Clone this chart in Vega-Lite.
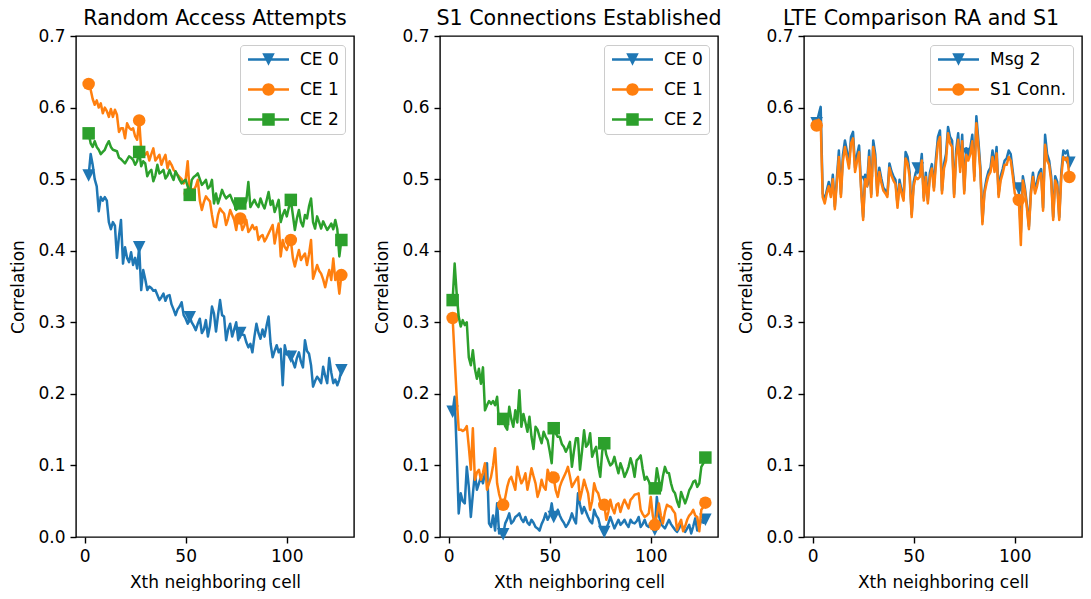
{
"$schema":"https://vega.github.io/schema/vega-lite/v6.json",
"background":"white",
"padding":{"left":9,"top":8,"right":0,"bottom":0},
"spacing":86,
"bounds":"flush",
"datasets":{
"ra":[
{"s":"CE 0","x":2,"y":0.505},{"s":"CE 0","x":3,"y":0.535},{"s":"CE 0","x":4,"y":0.52},{"s":"CE 0","x":5,"y":0.5},{"s":"CE 0","x":6,"y":0.49},{"s":"CE 0","x":7,"y":0.455},{"s":"CE 0","x":8,"y":0.475},{"s":"CE 0","x":9,"y":0.47},{"s":"CE 0","x":10,"y":0.475},{"s":"CE 0","x":11,"y":0.47},
{"s":"CE 0","x":12,"y":0.44},{"s":"CE 0","x":13,"y":0.43},{"s":"CE 0","x":14,"y":0.44},{"s":"CE 0","x":15,"y":0.435},{"s":"CE 0","x":16,"y":0.39},{"s":"CE 0","x":17,"y":0.42},{"s":"CE 0","x":18,"y":0.443},{"s":"CE 0","x":19,"y":0.382},{"s":"CE 0","x":20,"y":0.405},{"s":"CE 0","x":21,"y":0.39},
{"s":"CE 0","x":22,"y":0.384},{"s":"CE 0","x":23,"y":0.398},{"s":"CE 0","x":24,"y":0.38},{"s":"CE 0","x":25,"y":0.39},{"s":"CE 0","x":26,"y":0.375},{"s":"CE 0","x":27,"y":0.405},{"s":"CE 0","x":28,"y":0.345},{"s":"CE 0","x":29,"y":0.373},{"s":"CE 0","x":30,"y":0.36},{"s":"CE 0","x":31,"y":0.345},
{"s":"CE 0","x":32,"y":0.35},{"s":"CE 0","x":33,"y":0.348},{"s":"CE 0","x":34,"y":0.344},{"s":"CE 0","x":35,"y":0.345},{"s":"CE 0","x":36,"y":0.338},{"s":"CE 0","x":37,"y":0.331},{"s":"CE 0","x":38,"y":0.335},{"s":"CE 0","x":39,"y":0.34},{"s":"CE 0","x":40,"y":0.33},{"s":"CE 0","x":41,"y":0.337},
{"s":"CE 0","x":42,"y":0.338},{"s":"CE 0","x":43,"y":0.325},{"s":"CE 0","x":44,"y":0.318},{"s":"CE 0","x":45,"y":0.31},{"s":"CE 0","x":46,"y":0.318},{"s":"CE 0","x":47,"y":0.322},{"s":"CE 0","x":48,"y":0.328},{"s":"CE 0","x":49,"y":0.31},{"s":"CE 0","x":50,"y":0.305},{"s":"CE 0","x":51,"y":0.298},
{"s":"CE 0","x":52,"y":0.307},{"s":"CE 0","x":53,"y":0.3},{"s":"CE 0","x":54,"y":0.295},{"s":"CE 0","x":55,"y":0.289},{"s":"CE 0","x":56,"y":0.298},{"s":"CE 0","x":57,"y":0.305},{"s":"CE 0","x":58,"y":0.285},{"s":"CE 0","x":59,"y":0.29},{"s":"CE 0","x":60,"y":0.303},{"s":"CE 0","x":61,"y":0.28},
{"s":"CE 0","x":62,"y":0.295},{"s":"CE 0","x":63,"y":0.322},{"s":"CE 0","x":64,"y":0.312},{"s":"CE 0","x":65,"y":0.287},{"s":"CE 0","x":66,"y":0.31},{"s":"CE 0","x":67,"y":0.331},{"s":"CE 0","x":68,"y":0.31},{"s":"CE 0","x":69,"y":0.308},{"s":"CE 0","x":70,"y":0.275},{"s":"CE 0","x":71,"y":0.29},
{"s":"CE 0","x":72,"y":0.298},{"s":"CE 0","x":73,"y":0.28},{"s":"CE 0","x":74,"y":0.29},{"s":"CE 0","x":75,"y":0.3},{"s":"CE 0","x":76,"y":0.275},{"s":"CE 0","x":77,"y":0.285},{"s":"CE 0","x":78,"y":0.283},{"s":"CE 0","x":79,"y":0.282},{"s":"CE 0","x":80,"y":0.272},{"s":"CE 0","x":81,"y":0.265},
{"s":"CE 0","x":82,"y":0.27},{"s":"CE 0","x":83,"y":0.258},{"s":"CE 0","x":84,"y":0.28},{"s":"CE 0","x":85,"y":0.298},{"s":"CE 0","x":86,"y":0.285},{"s":"CE 0","x":87,"y":0.277},{"s":"CE 0","x":88,"y":0.29},{"s":"CE 0","x":89,"y":0.28},{"s":"CE 0","x":90,"y":0.295},{"s":"CE 0","x":91,"y":0.308},
{"s":"CE 0","x":92,"y":0.27},{"s":"CE 0","x":93,"y":0.251},{"s":"CE 0","x":94,"y":0.26},{"s":"CE 0","x":95,"y":0.268},{"s":"CE 0","x":96,"y":0.258},{"s":"CE 0","x":97,"y":0.263},{"s":"CE 0","x":98,"y":0.212},{"s":"CE 0","x":99,"y":0.268},{"s":"CE 0","x":100,"y":0.255},{"s":"CE 0","x":101,"y":0.259},
{"s":"CE 0","x":102,"y":0.252},{"s":"CE 0","x":103,"y":0.245},{"s":"CE 0","x":104,"y":0.237},{"s":"CE 0","x":105,"y":0.25},{"s":"CE 0","x":106,"y":0.258},{"s":"CE 0","x":107,"y":0.245},{"s":"CE 0","x":108,"y":0.237},{"s":"CE 0","x":109,"y":0.275},{"s":"CE 0","x":110,"y":0.26},{"s":"CE 0","x":111,"y":0.256},
{"s":"CE 0","x":112,"y":0.24},{"s":"CE 0","x":113,"y":0.21},{"s":"CE 0","x":114,"y":0.218},{"s":"CE 0","x":115,"y":0.224},{"s":"CE 0","x":116,"y":0.22},{"s":"CE 0","x":117,"y":0.215},{"s":"CE 0","x":118,"y":0.238},{"s":"CE 0","x":119,"y":0.225},{"s":"CE 0","x":120,"y":0.215},{"s":"CE 0","x":121,"y":0.25},
{"s":"CE 0","x":122,"y":0.23},{"s":"CE 0","x":123,"y":0.215},{"s":"CE 0","x":124,"y":0.22},{"s":"CE 0","x":125,"y":0.212},{"s":"CE 0","x":126,"y":0.22},{"s":"CE 0","x":127,"y":0.233},
{"s":"CE 1","x":2,"y":0.633},{"s":"CE 1","x":3,"y":0.625},{"s":"CE 1","x":4,"y":0.612},{"s":"CE 1","x":5,"y":0.604},{"s":"CE 1","x":6,"y":0.61},{"s":"CE 1","x":7,"y":0.6},{"s":"CE 1","x":8,"y":0.606},{"s":"CE 1","x":9,"y":0.592},{"s":"CE 1","x":10,"y":0.6},{"s":"CE 1","x":11,"y":0.595},
{"s":"CE 1","x":12,"y":0.587},{"s":"CE 1","x":13,"y":0.598},{"s":"CE 1","x":14,"y":0.587},{"s":"CE 1","x":15,"y":0.597},{"s":"CE 1","x":16,"y":0.59},{"s":"CE 1","x":17,"y":0.566},{"s":"CE 1","x":18,"y":0.571},{"s":"CE 1","x":19,"y":0.571},{"s":"CE 1","x":20,"y":0.557},{"s":"CE 1","x":21,"y":0.578},
{"s":"CE 1","x":22,"y":0.572},{"s":"CE 1","x":23,"y":0.569},{"s":"CE 1","x":24,"y":0.571},{"s":"CE 1","x":25,"y":0.56},{"s":"CE 1","x":26,"y":0.555},{"s":"CE 1","x":27,"y":0.582},{"s":"CE 1","x":28,"y":0.541},{"s":"CE 1","x":29,"y":0.538},{"s":"CE 1","x":30,"y":0.534},{"s":"CE 1","x":31,"y":0.538},
{"s":"CE 1","x":32,"y":0.526},{"s":"CE 1","x":33,"y":0.535},{"s":"CE 1","x":34,"y":0.543},{"s":"CE 1","x":35,"y":0.526},{"s":"CE 1","x":36,"y":0.53},{"s":"CE 1","x":37,"y":0.534},{"s":"CE 1","x":38,"y":0.52},{"s":"CE 1","x":39,"y":0.528},{"s":"CE 1","x":40,"y":0.534},{"s":"CE 1","x":41,"y":0.515},
{"s":"CE 1","x":42,"y":0.525},{"s":"CE 1","x":43,"y":0.52},{"s":"CE 1","x":44,"y":0.513},{"s":"CE 1","x":45,"y":0.51},{"s":"CE 1","x":46,"y":0.506},{"s":"CE 1","x":47,"y":0.503},{"s":"CE 1","x":48,"y":0.5},{"s":"CE 1","x":49,"y":0.494},{"s":"CE 1","x":50,"y":0.5},{"s":"CE 1","x":51,"y":0.525},
{"s":"CE 1","x":52,"y":0.48},{"s":"CE 1","x":53,"y":0.483},{"s":"CE 1","x":54,"y":0.485},{"s":"CE 1","x":55,"y":0.49},{"s":"CE 1","x":56,"y":0.499},{"s":"CE 1","x":57,"y":0.47},{"s":"CE 1","x":58,"y":0.457},{"s":"CE 1","x":59,"y":0.468},{"s":"CE 1","x":60,"y":0.476},{"s":"CE 1","x":61,"y":0.472},
{"s":"CE 1","x":62,"y":0.469},{"s":"CE 1","x":63,"y":0.45},{"s":"CE 1","x":64,"y":0.434},{"s":"CE 1","x":65,"y":0.433},{"s":"CE 1","x":66,"y":0.45},{"s":"CE 1","x":67,"y":0.459},{"s":"CE 1","x":68,"y":0.455},{"s":"CE 1","x":69,"y":0.452},{"s":"CE 1","x":70,"y":0.436},{"s":"CE 1","x":71,"y":0.445},
{"s":"CE 1","x":72,"y":0.457},{"s":"CE 1","x":73,"y":0.45},{"s":"CE 1","x":74,"y":0.443},{"s":"CE 1","x":75,"y":0.429},{"s":"CE 1","x":76,"y":0.448},{"s":"CE 1","x":77,"y":0.445},{"s":"CE 1","x":78,"y":0.429},{"s":"CE 1","x":79,"y":0.435},{"s":"CE 1","x":80,"y":0.443},{"s":"CE 1","x":81,"y":0.426},
{"s":"CE 1","x":82,"y":0.43},{"s":"CE 1","x":83,"y":0.436},{"s":"CE 1","x":84,"y":0.43},{"s":"CE 1","x":85,"y":0.433},{"s":"CE 1","x":86,"y":0.415},{"s":"CE 1","x":87,"y":0.42},{"s":"CE 1","x":88,"y":0.422},{"s":"CE 1","x":89,"y":0.413},{"s":"CE 1","x":90,"y":0.418},{"s":"CE 1","x":91,"y":0.424},
{"s":"CE 1","x":92,"y":0.43},{"s":"CE 1","x":93,"y":0.436},{"s":"CE 1","x":94,"y":0.41},{"s":"CE 1","x":95,"y":0.425},{"s":"CE 1","x":96,"y":0.438},{"s":"CE 1","x":97,"y":0.392},{"s":"CE 1","x":98,"y":0.415},{"s":"CE 1","x":99,"y":0.405},{"s":"CE 1","x":100,"y":0.401},{"s":"CE 1","x":101,"y":0.41},
{"s":"CE 1","x":102,"y":0.415},{"s":"CE 1","x":103,"y":0.39},{"s":"CE 1","x":104,"y":0.378},{"s":"CE 1","x":105,"y":0.39},{"s":"CE 1","x":106,"y":0.401},{"s":"CE 1","x":107,"y":0.387},{"s":"CE 1","x":108,"y":0.392},{"s":"CE 1","x":109,"y":0.396},{"s":"CE 1","x":110,"y":0.38},{"s":"CE 1","x":111,"y":0.395},
{"s":"CE 1","x":112,"y":0.415},{"s":"CE 1","x":113,"y":0.361},{"s":"CE 1","x":114,"y":0.37},{"s":"CE 1","x":115,"y":0.38},{"s":"CE 1","x":116,"y":0.372},{"s":"CE 1","x":117,"y":0.368},{"s":"CE 1","x":118,"y":0.36},{"s":"CE 1","x":119,"y":0.349},{"s":"CE 1","x":120,"y":0.362},{"s":"CE 1","x":121,"y":0.373},
{"s":"CE 1","x":122,"y":0.359},{"s":"CE 1","x":123,"y":0.389},{"s":"CE 1","x":124,"y":0.359},{"s":"CE 1","x":125,"y":0.365},{"s":"CE 1","x":126,"y":0.34},{"s":"CE 1","x":127,"y":0.366},
{"s":"CE 2","x":2,"y":0.564},{"s":"CE 2","x":3,"y":0.55},{"s":"CE 2","x":4,"y":0.545},{"s":"CE 2","x":5,"y":0.553},{"s":"CE 2","x":6,"y":0.545},{"s":"CE 2","x":7,"y":0.541},{"s":"CE 2","x":8,"y":0.535},{"s":"CE 2","x":9,"y":0.538},{"s":"CE 2","x":10,"y":0.541},{"s":"CE 2","x":11,"y":0.548},
{"s":"CE 2","x":12,"y":0.553},{"s":"CE 2","x":13,"y":0.545},{"s":"CE 2","x":14,"y":0.541},{"s":"CE 2","x":15,"y":0.54},{"s":"CE 2","x":16,"y":0.539},{"s":"CE 2","x":17,"y":0.53},{"s":"CE 2","x":18,"y":0.528},{"s":"CE 2","x":19,"y":0.525},{"s":"CE 2","x":20,"y":0.522},{"s":"CE 2","x":21,"y":0.527},
{"s":"CE 2","x":22,"y":0.532},{"s":"CE 2","x":23,"y":0.53},{"s":"CE 2","x":24,"y":0.527},{"s":"CE 2","x":25,"y":0.52},{"s":"CE 2","x":26,"y":0.525},{"s":"CE 2","x":27,"y":0.538},{"s":"CE 2","x":28,"y":0.518},{"s":"CE 2","x":29,"y":0.525},{"s":"CE 2","x":30,"y":0.522},{"s":"CE 2","x":31,"y":0.504},
{"s":"CE 2","x":32,"y":0.51},{"s":"CE 2","x":33,"y":0.513},{"s":"CE 2","x":34,"y":0.497},{"s":"CE 2","x":35,"y":0.505},{"s":"CE 2","x":36,"y":0.52},{"s":"CE 2","x":37,"y":0.508},{"s":"CE 2","x":38,"y":0.51},{"s":"CE 2","x":39,"y":0.513},{"s":"CE 2","x":40,"y":0.501},{"s":"CE 2","x":41,"y":0.505},
{"s":"CE 2","x":42,"y":0.513},{"s":"CE 2","x":43,"y":0.505},{"s":"CE 2","x":44,"y":0.499},{"s":"CE 2","x":45,"y":0.511},{"s":"CE 2","x":46,"y":0.505},{"s":"CE 2","x":47,"y":0.499},{"s":"CE 2","x":48,"y":0.494},{"s":"CE 2","x":49,"y":0.497},{"s":"CE 2","x":50,"y":0.499},{"s":"CE 2","x":51,"y":0.49},
{"s":"CE 2","x":52,"y":0.478},{"s":"CE 2","x":53,"y":0.499},{"s":"CE 2","x":54,"y":0.503},{"s":"CE 2","x":55,"y":0.505},{"s":"CE 2","x":56,"y":0.508},{"s":"CE 2","x":57,"y":0.5},{"s":"CE 2","x":58,"y":0.492},{"s":"CE 2","x":59,"y":0.495},{"s":"CE 2","x":60,"y":0.499},{"s":"CE 2","x":61,"y":0.487},
{"s":"CE 2","x":62,"y":0.49},{"s":"CE 2","x":63,"y":0.499},{"s":"CE 2","x":64,"y":0.466},{"s":"CE 2","x":65,"y":0.48},{"s":"CE 2","x":66,"y":0.466},{"s":"CE 2","x":67,"y":0.475},{"s":"CE 2","x":68,"y":0.485},{"s":"CE 2","x":69,"y":0.478},{"s":"CE 2","x":70,"y":0.473},{"s":"CE 2","x":71,"y":0.476},
{"s":"CE 2","x":72,"y":0.478},{"s":"CE 2","x":73,"y":0.471},{"s":"CE 2","x":74,"y":0.465},{"s":"CE 2","x":75,"y":0.457},{"s":"CE 2","x":76,"y":0.462},{"s":"CE 2","x":77,"y":0.466},{"s":"CE 2","x":78,"y":0.47},{"s":"CE 2","x":79,"y":0.464},{"s":"CE 2","x":80,"y":0.47},{"s":"CE 2","x":81,"y":0.496},
{"s":"CE 2","x":82,"y":0.461},{"s":"CE 2","x":83,"y":0.466},{"s":"CE 2","x":84,"y":0.471},{"s":"CE 2","x":85,"y":0.465},{"s":"CE 2","x":86,"y":0.461},{"s":"CE 2","x":87,"y":0.473},{"s":"CE 2","x":88,"y":0.465},{"s":"CE 2","x":89,"y":0.459},{"s":"CE 2","x":90,"y":0.47},{"s":"CE 2","x":91,"y":0.482},
{"s":"CE 2","x":92,"y":0.464},{"s":"CE 2","x":93,"y":0.47},{"s":"CE 2","x":94,"y":0.454},{"s":"CE 2","x":95,"y":0.462},{"s":"CE 2","x":96,"y":0.471},{"s":"CE 2","x":97,"y":0.44},{"s":"CE 2","x":98,"y":0.45},{"s":"CE 2","x":99,"y":0.457},{"s":"CE 2","x":100,"y":0.448},{"s":"CE 2","x":101,"y":0.46},
{"s":"CE 2","x":102,"y":0.471},{"s":"CE 2","x":103,"y":0.45},{"s":"CE 2","x":104,"y":0.429},{"s":"CE 2","x":105,"y":0.445},{"s":"CE 2","x":106,"y":0.457},{"s":"CE 2","x":107,"y":0.44},{"s":"CE 2","x":108,"y":0.434},{"s":"CE 2","x":109,"y":0.45},{"s":"CE 2","x":110,"y":0.445},{"s":"CE 2","x":111,"y":0.462},
{"s":"CE 2","x":112,"y":0.473},{"s":"CE 2","x":113,"y":0.44},{"s":"CE 2","x":114,"y":0.431},{"s":"CE 2","x":115,"y":0.448},{"s":"CE 2","x":116,"y":0.44},{"s":"CE 2","x":117,"y":0.431},{"s":"CE 2","x":118,"y":0.441},{"s":"CE 2","x":119,"y":0.435},{"s":"CE 2","x":120,"y":0.429},{"s":"CE 2","x":121,"y":0.433},
{"s":"CE 2","x":122,"y":0.438},{"s":"CE 2","x":123,"y":0.43},{"s":"CE 2","x":124,"y":0.443},{"s":"CE 2","x":125,"y":0.43},{"s":"CE 2","x":126,"y":0.392},{"s":"CE 2","x":127,"y":0.415}
],
"s1":[
{"s":"CE 0","x":2,"y":0.175},{"s":"CE 0","x":3,"y":0.196},{"s":"CE 0","x":4,"y":0.12},{"s":"CE 0","x":5,"y":0.033},{"s":"CE 0","x":6,"y":0.061},{"s":"CE 0","x":7,"y":0.05},{"s":"CE 0","x":8,"y":0.047},{"s":"CE 0","x":9,"y":0.098},{"s":"CE 0","x":10,"y":0.07},{"s":"CE 0","x":11,"y":0.028},
{"s":"CE 0","x":12,"y":0.06},{"s":"CE 0","x":13,"y":0.089},{"s":"CE 0","x":14,"y":0.066},{"s":"CE 0","x":15,"y":0.075},{"s":"CE 0","x":16,"y":0.084},{"s":"CE 0","x":17,"y":0.075},{"s":"CE 0","x":18,"y":0.09},{"s":"CE 0","x":19,"y":0.103},{"s":"CE 0","x":20,"y":0.019},{"s":"CE 0","x":21,"y":0.014},
{"s":"CE 0","x":22,"y":0.03},{"s":"CE 0","x":23,"y":0.009},{"s":"CE 0","x":24,"y":0.047},{"s":"CE 0","x":25,"y":0.005},{"s":"CE 0","x":26,"y":0.01},{"s":"CE 0","x":27,"y":0.004},{"s":"CE 0","x":28,"y":0.019},{"s":"CE 0","x":29,"y":0.025},{"s":"CE 0","x":30,"y":0.033},{"s":"CE 0","x":31,"y":0.019},
{"s":"CE 0","x":32,"y":0.022},{"s":"CE 0","x":33,"y":0.028},{"s":"CE 0","x":34,"y":0.03},{"s":"CE 0","x":35,"y":0.033},{"s":"CE 0","x":36,"y":0.025},{"s":"CE 0","x":37,"y":0.021},{"s":"CE 0","x":38,"y":0.028},{"s":"CE 0","x":39,"y":0.02},{"s":"CE 0","x":40,"y":0.017},{"s":"CE 0","x":41,"y":0.024},
{"s":"CE 0","x":42,"y":0.02},{"s":"CE 0","x":43,"y":0.014},{"s":"CE 0","x":44,"y":0.012},{"s":"CE 0","x":45,"y":0.009},{"s":"CE 0","x":46,"y":0.018},{"s":"CE 0","x":47,"y":0.024},{"s":"CE 0","x":48,"y":0.033},{"s":"CE 0","x":49,"y":0.024},{"s":"CE 0","x":50,"y":0.03},{"s":"CE 0","x":51,"y":0.047},
{"s":"CE 0","x":52,"y":0.028},{"s":"CE 0","x":53,"y":0.03},{"s":"CE 0","x":54,"y":0.038},{"s":"CE 0","x":55,"y":0.03},{"s":"CE 0","x":56,"y":0.024},{"s":"CE 0","x":57,"y":0.02},{"s":"CE 0","x":58,"y":0.014},{"s":"CE 0","x":59,"y":0.018},{"s":"CE 0","x":60,"y":0.024},{"s":"CE 0","x":61,"y":0.033},
{"s":"CE 0","x":62,"y":0.025},{"s":"CE 0","x":63,"y":0.019},{"s":"CE 0","x":64,"y":0.061},{"s":"CE 0","x":65,"y":0.045},{"s":"CE 0","x":66,"y":0.033},{"s":"CE 0","x":67,"y":0.042},{"s":"CE 0","x":68,"y":0.035},{"s":"CE 0","x":69,"y":0.028},{"s":"CE 0","x":70,"y":0.022},{"s":"CE 0","x":71,"y":0.019},
{"s":"CE 0","x":72,"y":0.038},{"s":"CE 0","x":73,"y":0.03},{"s":"CE 0","x":74,"y":0.026},{"s":"CE 0","x":75,"y":0.015},{"s":"CE 0","x":76,"y":0.01},{"s":"CE 0","x":77,"y":0.007},{"s":"CE 0","x":78,"y":0.012},{"s":"CE 0","x":79,"y":0.019},{"s":"CE 0","x":80,"y":0.028},{"s":"CE 0","x":81,"y":0.02},
{"s":"CE 0","x":82,"y":0.012},{"s":"CE 0","x":83,"y":0.018},{"s":"CE 0","x":84,"y":0.024},{"s":"CE 0","x":85,"y":0.017},{"s":"CE 0","x":86,"y":0.02},{"s":"CE 0","x":87,"y":0.024},{"s":"CE 0","x":88,"y":0.018},{"s":"CE 0","x":89,"y":0.014},{"s":"CE 0","x":90,"y":0.024},{"s":"CE 0","x":91,"y":0.02},
{"s":"CE 0","x":92,"y":0.019},{"s":"CE 0","x":93,"y":0.022},{"s":"CE 0","x":94,"y":0.028},{"s":"CE 0","x":95,"y":0.014},{"s":"CE 0","x":96,"y":0.018},{"s":"CE 0","x":97,"y":0.024},{"s":"CE 0","x":98,"y":0.016},{"s":"CE 0","x":99,"y":0.014},{"s":"CE 0","x":100,"y":0.02},{"s":"CE 0","x":101,"y":0.012},
{"s":"CE 0","x":102,"y":0.01},{"s":"CE 0","x":103,"y":0.056},{"s":"CE 0","x":104,"y":0.03},{"s":"CE 0","x":105,"y":0.019},{"s":"CE 0","x":106,"y":0.015},{"s":"CE 0","x":107,"y":0.012},{"s":"CE 0","x":108,"y":0.018},{"s":"CE 0","x":109,"y":0.024},{"s":"CE 0","x":110,"y":0.018},{"s":"CE 0","x":111,"y":0.014},
{"s":"CE 0","x":112,"y":0.01},{"s":"CE 0","x":113,"y":0.007},{"s":"CE 0","x":114,"y":0.012},{"s":"CE 0","x":115,"y":0.019},{"s":"CE 0","x":116,"y":0.012},{"s":"CE 0","x":117,"y":0.007},{"s":"CE 0","x":118,"y":0.012},{"s":"CE 0","x":119,"y":0.017},{"s":"CE 0","x":120,"y":0.005},{"s":"CE 0","x":121,"y":0.015},
{"s":"CE 0","x":122,"y":0.026},{"s":"CE 0","x":123,"y":0.009},{"s":"CE 0","x":124,"y":0.015},{"s":"CE 0","x":125,"y":0.024},{"s":"CE 0","x":126,"y":0.02},{"s":"CE 0","x":127,"y":0.024},
{"s":"CE 1","x":2,"y":0.306},{"s":"CE 1","x":3,"y":0.25},{"s":"CE 1","x":4,"y":0.196},{"s":"CE 1","x":5,"y":0.15},{"s":"CE 1","x":6,"y":0.15},{"s":"CE 1","x":7,"y":0.148},{"s":"CE 1","x":8,"y":0.15},{"s":"CE 1","x":9,"y":0.155},{"s":"CE 1","x":10,"y":0.126},{"s":"CE 1","x":11,"y":0.094},
{"s":"CE 1","x":12,"y":0.152},{"s":"CE 1","x":13,"y":0.08},{"s":"CE 1","x":14,"y":0.09},{"s":"CE 1","x":15,"y":0.094},{"s":"CE 1","x":16,"y":0.08},{"s":"CE 1","x":17,"y":0.09},{"s":"CE 1","x":18,"y":0.103},{"s":"CE 1","x":19,"y":0.066},{"s":"CE 1","x":20,"y":0.075},{"s":"CE 1","x":21,"y":0.084},
{"s":"CE 1","x":22,"y":0.1},{"s":"CE 1","x":23,"y":0.124},{"s":"CE 1","x":24,"y":0.075},{"s":"CE 1","x":25,"y":0.06},{"s":"CE 1","x":26,"y":0.05},{"s":"CE 1","x":27,"y":0.045},{"s":"CE 1","x":28,"y":0.055},{"s":"CE 1","x":29,"y":0.07},{"s":"CE 1","x":30,"y":0.08},{"s":"CE 1","x":31,"y":0.084},
{"s":"CE 1","x":32,"y":0.075},{"s":"CE 1","x":33,"y":0.066},{"s":"CE 1","x":34,"y":0.098},{"s":"CE 1","x":35,"y":0.085},{"s":"CE 1","x":36,"y":0.075},{"s":"CE 1","x":37,"y":0.08},{"s":"CE 1","x":38,"y":0.089},{"s":"CE 1","x":39,"y":0.066},{"s":"CE 1","x":40,"y":0.08},{"s":"CE 1","x":41,"y":0.096},
{"s":"CE 1","x":42,"y":0.085},{"s":"CE 1","x":43,"y":0.075},{"s":"CE 1","x":44,"y":0.056},{"s":"CE 1","x":45,"y":0.065},{"s":"CE 1","x":46,"y":0.08},{"s":"CE 1","x":47,"y":0.07},{"s":"CE 1","x":48,"y":0.066},{"s":"CE 1","x":49,"y":0.094},{"s":"CE 1","x":50,"y":0.085},{"s":"CE 1","x":51,"y":0.09},
{"s":"CE 1","x":52,"y":0.083},{"s":"CE 1","x":53,"y":0.065},{"s":"CE 1","x":54,"y":0.056},{"s":"CE 1","x":55,"y":0.07},{"s":"CE 1","x":56,"y":0.078},{"s":"CE 1","x":57,"y":0.084},{"s":"CE 1","x":58,"y":0.09},{"s":"CE 1","x":59,"y":0.098},{"s":"CE 1","x":60,"y":0.085},{"s":"CE 1","x":61,"y":0.07},
{"s":"CE 1","x":62,"y":0.075},{"s":"CE 1","x":63,"y":0.08},{"s":"CE 1","x":64,"y":0.084},{"s":"CE 1","x":65,"y":0.052},{"s":"CE 1","x":66,"y":0.065},{"s":"CE 1","x":67,"y":0.08},{"s":"CE 1","x":68,"y":0.07},{"s":"CE 1","x":69,"y":0.061},{"s":"CE 1","x":70,"y":0.038},{"s":"CE 1","x":71,"y":0.05},
{"s":"CE 1","x":72,"y":0.075},{"s":"CE 1","x":73,"y":0.065},{"s":"CE 1","x":74,"y":0.061},{"s":"CE 1","x":75,"y":0.05},{"s":"CE 1","x":76,"y":0.042},{"s":"CE 1","x":77,"y":0.045},{"s":"CE 1","x":78,"y":0.024},{"s":"CE 1","x":79,"y":0.035},{"s":"CE 1","x":80,"y":0.052},{"s":"CE 1","x":81,"y":0.04},
{"s":"CE 1","x":82,"y":0.033},{"s":"CE 1","x":83,"y":0.045},{"s":"CE 1","x":84,"y":0.047},{"s":"CE 1","x":85,"y":0.035},{"s":"CE 1","x":86,"y":0.045},{"s":"CE 1","x":87,"y":0.052},{"s":"CE 1","x":88,"y":0.046},{"s":"CE 1","x":89,"y":0.04},{"s":"CE 1","x":90,"y":0.052},{"s":"CE 1","x":91,"y":0.055},
{"s":"CE 1","x":92,"y":0.059},{"s":"CE 1","x":93,"y":0.06},{"s":"CE 1","x":94,"y":0.061},{"s":"CE 1","x":95,"y":0.038},{"s":"CE 1","x":96,"y":0.032},{"s":"CE 1","x":97,"y":0.028},{"s":"CE 1","x":98,"y":0.03},{"s":"CE 1","x":99,"y":0.033},{"s":"CE 1","x":100,"y":0.056},{"s":"CE 1","x":101,"y":0.03},
{"s":"CE 1","x":102,"y":0.017},{"s":"CE 1","x":103,"y":0.03},{"s":"CE 1","x":104,"y":0.047},{"s":"CE 1","x":105,"y":0.03},{"s":"CE 1","x":106,"y":0.019},{"s":"CE 1","x":107,"y":0.035},{"s":"CE 1","x":108,"y":0.045},{"s":"CE 1","x":109,"y":0.043},{"s":"CE 1","x":110,"y":0.042},{"s":"CE 1","x":111,"y":0.037},
{"s":"CE 1","x":112,"y":0.033},{"s":"CE 1","x":113,"y":0.01},{"s":"CE 1","x":114,"y":0.018},{"s":"CE 1","x":115,"y":0.024},{"s":"CE 1","x":116,"y":0.008},{"s":"CE 1","x":117,"y":0.015},{"s":"CE 1","x":118,"y":0.024},{"s":"CE 1","x":119,"y":0.03},{"s":"CE 1","x":120,"y":0.033},{"s":"CE 1","x":121,"y":0.038},
{"s":"CE 1","x":122,"y":0.03},{"s":"CE 1","x":123,"y":0.028},{"s":"CE 1","x":124,"y":0.008},{"s":"CE 1","x":125,"y":0.038},{"s":"CE 1","x":126,"y":0.042},{"s":"CE 1","x":127,"y":0.048},
{"s":"CE 2","x":2,"y":0.331},{"s":"CE 2","x":3,"y":0.382},{"s":"CE 2","x":4,"y":0.34},{"s":"CE 2","x":5,"y":0.308},{"s":"CE 2","x":6,"y":0.294},{"s":"CE 2","x":7,"y":0.303},{"s":"CE 2","x":8,"y":0.296},{"s":"CE 2","x":9,"y":0.3},{"s":"CE 2","x":10,"y":0.251},{"s":"CE 2","x":11,"y":0.24},
{"s":"CE 2","x":12,"y":0.261},{"s":"CE 2","x":13,"y":0.235},{"s":"CE 2","x":14,"y":0.221},{"s":"CE 2","x":15,"y":0.235},{"s":"CE 2","x":16,"y":0.214},{"s":"CE 2","x":17,"y":0.237},{"s":"CE 2","x":18,"y":0.177},{"s":"CE 2","x":19,"y":0.184},{"s":"CE 2","x":20,"y":0.19},{"s":"CE 2","x":21,"y":0.186},
{"s":"CE 2","x":22,"y":0.19},{"s":"CE 2","x":23,"y":0.184},{"s":"CE 2","x":24,"y":0.196},{"s":"CE 2","x":25,"y":0.158},{"s":"CE 2","x":26,"y":0.17},{"s":"CE 2","x":27,"y":0.165},{"s":"CE 2","x":28,"y":0.155},{"s":"CE 2","x":29,"y":0.15},{"s":"CE 2","x":30,"y":0.182},{"s":"CE 2","x":31,"y":0.165},
{"s":"CE 2","x":32,"y":0.154},{"s":"CE 2","x":33,"y":0.177},{"s":"CE 2","x":34,"y":0.16},{"s":"CE 2","x":35,"y":0.205},{"s":"CE 2","x":36,"y":0.154},{"s":"CE 2","x":37,"y":0.172},{"s":"CE 2","x":38,"y":0.16},{"s":"CE 2","x":39,"y":0.147},{"s":"CE 2","x":40,"y":0.168},{"s":"CE 2","x":41,"y":0.14},
{"s":"CE 2","x":42,"y":0.123},{"s":"CE 2","x":43,"y":0.154},{"s":"CE 2","x":44,"y":0.15},{"s":"CE 2","x":45,"y":0.14},{"s":"CE 2","x":46,"y":0.131},{"s":"CE 2","x":47,"y":0.147},{"s":"CE 2","x":48,"y":0.14},{"s":"CE 2","x":49,"y":0.135},{"s":"CE 2","x":50,"y":0.12},{"s":"CE 2","x":51,"y":0.103},
{"s":"CE 2","x":52,"y":0.152},{"s":"CE 2","x":53,"y":0.145},{"s":"CE 2","x":54,"y":0.14},{"s":"CE 2","x":55,"y":0.14},{"s":"CE 2","x":56,"y":0.13},{"s":"CE 2","x":57,"y":0.126},{"s":"CE 2","x":58,"y":0.119},{"s":"CE 2","x":59,"y":0.125},{"s":"CE 2","x":60,"y":0.133},{"s":"CE 2","x":61,"y":0.098},
{"s":"CE 2","x":62,"y":0.12},{"s":"CE 2","x":63,"y":0.138},{"s":"CE 2","x":64,"y":0.138},{"s":"CE 2","x":65,"y":0.094},{"s":"CE 2","x":66,"y":0.12},{"s":"CE 2","x":67,"y":0.149},{"s":"CE 2","x":68,"y":0.126},{"s":"CE 2","x":69,"y":0.13},{"s":"CE 2","x":70,"y":0.145},{"s":"CE 2","x":71,"y":0.112},
{"s":"CE 2","x":72,"y":0.12},{"s":"CE 2","x":73,"y":0.126},{"s":"CE 2","x":74,"y":0.1},{"s":"CE 2","x":75,"y":0.084},{"s":"CE 2","x":76,"y":0.12},{"s":"CE 2","x":77,"y":0.131},{"s":"CE 2","x":78,"y":0.115},{"s":"CE 2","x":79,"y":0.107},{"s":"CE 2","x":80,"y":0.1},{"s":"CE 2","x":81,"y":0.103},
{"s":"CE 2","x":82,"y":0.112},{"s":"CE 2","x":83,"y":0.1},{"s":"CE 2","x":84,"y":0.089},{"s":"CE 2","x":85,"y":0.103},{"s":"CE 2","x":86,"y":0.095},{"s":"CE 2","x":87,"y":0.084},{"s":"CE 2","x":88,"y":0.09},{"s":"CE 2","x":89,"y":0.098},{"s":"CE 2","x":90,"y":0.11},{"s":"CE 2","x":91,"y":0.1},
{"s":"CE 2","x":92,"y":0.084},{"s":"CE 2","x":93,"y":0.107},{"s":"CE 2","x":94,"y":0.11},{"s":"CE 2","x":95,"y":0.114},{"s":"CE 2","x":96,"y":0.095},{"s":"CE 2","x":97,"y":0.08},{"s":"CE 2","x":98,"y":0.084},{"s":"CE 2","x":99,"y":0.078},{"s":"CE 2","x":100,"y":0.07},{"s":"CE 2","x":101,"y":0.065},
{"s":"CE 2","x":102,"y":0.068},{"s":"CE 2","x":103,"y":0.096},{"s":"CE 2","x":104,"y":0.08},{"s":"CE 2","x":105,"y":0.065},{"s":"CE 2","x":106,"y":0.085},{"s":"CE 2","x":107,"y":0.098},{"s":"CE 2","x":108,"y":0.09},{"s":"CE 2","x":109,"y":0.089},{"s":"CE 2","x":110,"y":0.075},{"s":"CE 2","x":111,"y":0.065},
{"s":"CE 2","x":112,"y":0.061},{"s":"CE 2","x":113,"y":0.05},{"s":"CE 2","x":114,"y":0.042},{"s":"CE 2","x":115,"y":0.063},{"s":"CE 2","x":116,"y":0.055},{"s":"CE 2","x":117,"y":0.047},{"s":"CE 2","x":118,"y":0.055},{"s":"CE 2","x":119,"y":0.065},{"s":"CE 2","x":120,"y":0.07},{"s":"CE 2","x":121,"y":0.077},
{"s":"CE 2","x":122,"y":0.079},{"s":"CE 2","x":123,"y":0.07},{"s":"CE 2","x":124,"y":0.075},{"s":"CE 2","x":125,"y":0.098},{"s":"CE 2","x":126,"y":0.103},{"s":"CE 2","x":127,"y":0.111}
],
"cmp":[
{"s":"Msg 2","x":2,"y":0.578},{"s":"Msg 2","x":3,"y":0.59},{"s":"Msg 2","x":4,"y":0.601},{"s":"Msg 2","x":5,"y":0.48},{"s":"Msg 2","x":6,"y":0.47},{"s":"Msg 2","x":7,"y":0.484},{"s":"Msg 2","x":8,"y":0.496},{"s":"Msg 2","x":9,"y":0.479},{"s":"Msg 2","x":10,"y":0.506},{"s":"Msg 2","x":11,"y":0.462},
{"s":"Msg 2","x":12,"y":0.501},{"s":"Msg 2","x":13,"y":0.54},{"s":"Msg 2","x":14,"y":0.479},{"s":"Msg 2","x":15,"y":0.534},{"s":"Msg 2","x":16,"y":0.554},{"s":"Msg 2","x":17,"y":0.539},{"s":"Msg 2","x":18,"y":0.521},{"s":"Msg 2","x":19,"y":0.559},{"s":"Msg 2","x":20,"y":0.566},{"s":"Msg 2","x":21,"y":0.516},
{"s":"Msg 2","x":22,"y":0.534},{"s":"Msg 2","x":23,"y":0.547},{"s":"Msg 2","x":24,"y":0.489},{"s":"Msg 2","x":25,"y":0.447},{"s":"Msg 2","x":26,"y":0.506},{"s":"Msg 2","x":27,"y":0.496},{"s":"Msg 2","x":28,"y":0.54},{"s":"Msg 2","x":29,"y":0.479},{"s":"Msg 2","x":30,"y":0.554},{"s":"Msg 2","x":31,"y":0.535},
{"s":"Msg 2","x":32,"y":0.481},{"s":"Msg 2","x":33,"y":0.516},{"s":"Msg 2","x":34,"y":0.501},{"s":"Msg 2","x":35,"y":0.488},{"s":"Msg 2","x":36,"y":0.484},{"s":"Msg 2","x":37,"y":0.479},{"s":"Msg 2","x":38,"y":0.522},{"s":"Msg 2","x":39,"y":0.511},{"s":"Msg 2","x":40,"y":0.504},{"s":"Msg 2","x":41,"y":0.499},
{"s":"Msg 2","x":42,"y":0.464},{"s":"Msg 2","x":43,"y":0.499},{"s":"Msg 2","x":44,"y":0.484},{"s":"Msg 2","x":45,"y":0.474},{"s":"Msg 2","x":46,"y":0.538},{"s":"Msg 2","x":47,"y":0.531},{"s":"Msg 2","x":48,"y":0.509},{"s":"Msg 2","x":49,"y":0.451},{"s":"Msg 2","x":50,"y":0.496},{"s":"Msg 2","x":51,"y":0.509},
{"s":"Msg 2","x":52,"y":0.515},{"s":"Msg 2","x":53,"y":0.509},{"s":"Msg 2","x":54,"y":0.535},{"s":"Msg 2","x":55,"y":0.474},{"s":"Msg 2","x":56,"y":0.509},{"s":"Msg 2","x":57,"y":0.47},{"s":"Msg 2","x":58,"y":0.509},{"s":"Msg 2","x":59,"y":0.521},{"s":"Msg 2","x":60,"y":0.488},{"s":"Msg 2","x":61,"y":0.529},
{"s":"Msg 2","x":62,"y":0.559},{"s":"Msg 2","x":63,"y":0.568},{"s":"Msg 2","x":64,"y":0.484},{"s":"Msg 2","x":65,"y":0.521},{"s":"Msg 2","x":66,"y":0.535},{"s":"Msg 2","x":67,"y":0.573},{"s":"Msg 2","x":68,"y":0.559},{"s":"Msg 2","x":69,"y":0.554},{"s":"Msg 2","x":70,"y":0.479},{"s":"Msg 2","x":71,"y":0.54},
{"s":"Msg 2","x":72,"y":0.564},{"s":"Msg 2","x":73,"y":0.516},{"s":"Msg 2","x":74,"y":0.562},{"s":"Msg 2","x":75,"y":0.484},{"s":"Msg 2","x":76,"y":0.543},{"s":"Msg 2","x":77,"y":0.535},{"s":"Msg 2","x":78,"y":0.544},{"s":"Msg 2","x":79,"y":0.562},{"s":"Msg 2","x":80,"y":0.504},{"s":"Msg 2","x":81,"y":0.588},
{"s":"Msg 2","x":82,"y":0.554},{"s":"Msg 2","x":83,"y":0.516},{"s":"Msg 2","x":84,"y":0.441},{"s":"Msg 2","x":85,"y":0.484},{"s":"Msg 2","x":86,"y":0.5},{"s":"Msg 2","x":87,"y":0.511},{"s":"Msg 2","x":88,"y":0.516},{"s":"Msg 2","x":89,"y":0.54},{"s":"Msg 2","x":90,"y":0.516},{"s":"Msg 2","x":91,"y":0.545},
{"s":"Msg 2","x":92,"y":0.479},{"s":"Msg 2","x":93,"y":0.504},{"s":"Msg 2","x":94,"y":0.514},{"s":"Msg 2","x":95,"y":0.526},{"s":"Msg 2","x":96,"y":0.529},{"s":"Msg 2","x":97,"y":0.54},{"s":"Msg 2","x":98,"y":0.535},{"s":"Msg 2","x":99,"y":0.511},{"s":"Msg 2","x":100,"y":0.488},{"s":"Msg 2","x":101,"y":0.492},
{"s":"Msg 2","x":102,"y":0.487},{"s":"Msg 2","x":103,"y":0.425},{"s":"Msg 2","x":104,"y":0.504},{"s":"Msg 2","x":105,"y":0.488},{"s":"Msg 2","x":106,"y":0.464},{"s":"Msg 2","x":107,"y":0.434},{"s":"Msg 2","x":108,"y":0.484},{"s":"Msg 2","x":109,"y":0.509},{"s":"Msg 2","x":110,"y":0.484},{"s":"Msg 2","x":111,"y":0.496},
{"s":"Msg 2","x":112,"y":0.509},{"s":"Msg 2","x":113,"y":0.514},{"s":"Msg 2","x":114,"y":0.46},{"s":"Msg 2","x":115,"y":0.562},{"s":"Msg 2","x":116,"y":0.535},{"s":"Msg 2","x":117,"y":0.526},{"s":"Msg 2","x":118,"y":0.504},{"s":"Msg 2","x":119,"y":0.447},{"s":"Msg 2","x":120,"y":0.504},{"s":"Msg 2","x":121,"y":0.496},
{"s":"Msg 2","x":122,"y":0.447},{"s":"Msg 2","x":123,"y":0.509},{"s":"Msg 2","x":124,"y":0.54},{"s":"Msg 2","x":125,"y":0.536},{"s":"Msg 2","x":126,"y":0.54},{"s":"Msg 2","x":127,"y":0.523},
{"s":"S1 Conn.","x":2,"y":0.575},{"s":"S1 Conn.","x":3,"y":0.583},{"s":"S1 Conn.","x":4,"y":0.58},{"s":"S1 Conn.","x":5,"y":0.475},{"s":"S1 Conn.","x":6,"y":0.466},{"s":"S1 Conn.","x":7,"y":0.48},{"s":"S1 Conn.","x":8,"y":0.49},{"s":"S1 Conn.","x":9,"y":0.475},{"s":"S1 Conn.","x":10,"y":0.5},{"s":"S1 Conn.","x":11,"y":0.458},
{"s":"S1 Conn.","x":12,"y":0.495},{"s":"S1 Conn.","x":13,"y":0.531},{"s":"S1 Conn.","x":14,"y":0.475},{"s":"S1 Conn.","x":15,"y":0.525},{"s":"S1 Conn.","x":16,"y":0.545},{"s":"S1 Conn.","x":17,"y":0.53},{"s":"S1 Conn.","x":18,"y":0.515},{"s":"S1 Conn.","x":19,"y":0.55},{"s":"S1 Conn.","x":20,"y":0.557},{"s":"S1 Conn.","x":21,"y":0.51},
{"s":"S1 Conn.","x":22,"y":0.525},{"s":"S1 Conn.","x":23,"y":0.538},{"s":"S1 Conn.","x":24,"y":0.485},{"s":"S1 Conn.","x":25,"y":0.443},{"s":"S1 Conn.","x":26,"y":0.5},{"s":"S1 Conn.","x":27,"y":0.49},{"s":"S1 Conn.","x":28,"y":0.531},{"s":"S1 Conn.","x":29,"y":0.475},{"s":"S1 Conn.","x":30,"y":0.545},{"s":"S1 Conn.","x":31,"y":0.526},
{"s":"S1 Conn.","x":32,"y":0.477},{"s":"S1 Conn.","x":33,"y":0.51},{"s":"S1 Conn.","x":34,"y":0.495},{"s":"S1 Conn.","x":35,"y":0.484},{"s":"S1 Conn.","x":36,"y":0.48},{"s":"S1 Conn.","x":37,"y":0.475},{"s":"S1 Conn.","x":38,"y":0.516},{"s":"S1 Conn.","x":39,"y":0.505},{"s":"S1 Conn.","x":40,"y":0.498},{"s":"S1 Conn.","x":41,"y":0.493},
{"s":"S1 Conn.","x":42,"y":0.46},{"s":"S1 Conn.","x":43,"y":0.493},{"s":"S1 Conn.","x":44,"y":0.48},{"s":"S1 Conn.","x":45,"y":0.47},{"s":"S1 Conn.","x":46,"y":0.529},{"s":"S1 Conn.","x":47,"y":0.522},{"s":"S1 Conn.","x":48,"y":0.503},{"s":"S1 Conn.","x":49,"y":0.447},{"s":"S1 Conn.","x":50,"y":0.49},{"s":"S1 Conn.","x":51,"y":0.503},
{"s":"S1 Conn.","x":52,"y":0.5},{"s":"S1 Conn.","x":53,"y":0.503},{"s":"S1 Conn.","x":54,"y":0.526},{"s":"S1 Conn.","x":55,"y":0.47},{"s":"S1 Conn.","x":56,"y":0.503},{"s":"S1 Conn.","x":57,"y":0.466},{"s":"S1 Conn.","x":58,"y":0.503},{"s":"S1 Conn.","x":59,"y":0.515},{"s":"S1 Conn.","x":60,"y":0.484},{"s":"S1 Conn.","x":61,"y":0.52},
{"s":"S1 Conn.","x":62,"y":0.55},{"s":"S1 Conn.","x":63,"y":0.559},{"s":"S1 Conn.","x":64,"y":0.48},{"s":"S1 Conn.","x":65,"y":0.515},{"s":"S1 Conn.","x":66,"y":0.526},{"s":"S1 Conn.","x":67,"y":0.564},{"s":"S1 Conn.","x":68,"y":0.55},{"s":"S1 Conn.","x":69,"y":0.545},{"s":"S1 Conn.","x":70,"y":0.475},{"s":"S1 Conn.","x":71,"y":0.531},
{"s":"S1 Conn.","x":72,"y":0.555},{"s":"S1 Conn.","x":73,"y":0.51},{"s":"S1 Conn.","x":74,"y":0.553},{"s":"S1 Conn.","x":75,"y":0.48},{"s":"S1 Conn.","x":76,"y":0.534},{"s":"S1 Conn.","x":77,"y":0.526},{"s":"S1 Conn.","x":78,"y":0.535},{"s":"S1 Conn.","x":79,"y":0.553},{"s":"S1 Conn.","x":80,"y":0.498},{"s":"S1 Conn.","x":81,"y":0.578},
{"s":"S1 Conn.","x":82,"y":0.545},{"s":"S1 Conn.","x":83,"y":0.51},{"s":"S1 Conn.","x":84,"y":0.437},{"s":"S1 Conn.","x":85,"y":0.48},{"s":"S1 Conn.","x":86,"y":0.494},{"s":"S1 Conn.","x":87,"y":0.505},{"s":"S1 Conn.","x":88,"y":0.51},{"s":"S1 Conn.","x":89,"y":0.531},{"s":"S1 Conn.","x":90,"y":0.51},{"s":"S1 Conn.","x":91,"y":0.536},
{"s":"S1 Conn.","x":92,"y":0.475},{"s":"S1 Conn.","x":93,"y":0.498},{"s":"S1 Conn.","x":94,"y":0.508},{"s":"S1 Conn.","x":95,"y":0.52},{"s":"S1 Conn.","x":96,"y":0.52},{"s":"S1 Conn.","x":97,"y":0.531},{"s":"S1 Conn.","x":98,"y":0.526},{"s":"S1 Conn.","x":99,"y":0.505},{"s":"S1 Conn.","x":100,"y":0.48},{"s":"S1 Conn.","x":101,"y":0.475},
{"s":"S1 Conn.","x":102,"y":0.471},{"s":"S1 Conn.","x":103,"y":0.408},{"s":"S1 Conn.","x":104,"y":0.498},{"s":"S1 Conn.","x":105,"y":0.484},{"s":"S1 Conn.","x":106,"y":0.46},{"s":"S1 Conn.","x":107,"y":0.43},{"s":"S1 Conn.","x":108,"y":0.48},{"s":"S1 Conn.","x":109,"y":0.503},{"s":"S1 Conn.","x":110,"y":0.48},{"s":"S1 Conn.","x":111,"y":0.49},
{"s":"S1 Conn.","x":112,"y":0.503},{"s":"S1 Conn.","x":113,"y":0.508},{"s":"S1 Conn.","x":114,"y":0.456},{"s":"S1 Conn.","x":115,"y":0.548},{"s":"S1 Conn.","x":116,"y":0.526},{"s":"S1 Conn.","x":117,"y":0.52},{"s":"S1 Conn.","x":118,"y":0.498},{"s":"S1 Conn.","x":119,"y":0.443},{"s":"S1 Conn.","x":120,"y":0.498},{"s":"S1 Conn.","x":121,"y":0.49},
{"s":"S1 Conn.","x":122,"y":0.443},{"s":"S1 Conn.","x":123,"y":0.503},{"s":"S1 Conn.","x":124,"y":0.531},{"s":"S1 Conn.","x":125,"y":0.527},{"s":"S1 Conn.","x":126,"y":0.53},{"s":"S1 Conn.","x":127,"y":0.503}
]
},
"hconcat":[
{
"title":"Random Access Attempts",
"width":278,"height":501,
"data":{"name":"ra"},
"encoding":{
"x":{"field":"x","type":"quantitative","scale":{"domain":[-4.25,133.25],"nice":false,"zero":false},"axis":{"values":[0,50,100],"title":"Xth neighboring cell"}},
"y":{"field":"y","type":"quantitative","scale":{"domain":[0,0.7],"nice":false},"axis":{"values":[0,0.1,0.2,0.3,0.4,0.5,0.6,0.7],"format":".1f","title":"Correlation"}},
"color":{"field":"s","type":"nominal","scale":{"domain":["CE 0","CE 1","CE 2"],"range":["#1f77b4","#ff7f0e","#2ca02c"]},
 "legend":{"encode":{"symbols":{"update":{
  "shape":{"signal":"datum.value === 'CE 0' ? 'M-2.41,-0.147H2.41V0.147H-2.41ZM-0.735,-0.735L0.735,-0.735L0,0.735Z' : datum.value === 'CE 1' ? 'M-2.41,-0.147H2.41V0.147H-2.41ZM0.735,0A0.735,0.735,0,1,1,-0.735,0A0.735,0.735,0,1,1,0.735,0Z' : 'M-2.41,-0.147H2.41V0.147H-2.41ZM-0.735,-0.735H0.735V0.735H-0.735Z'"},
  "fill":{"signal":"datum.value === 'CE 0' ? '#1f77b4' : datum.value === 'CE 1' ? '#ff7f0e' : '#2ca02c'"},
  "stroke":{"value":"transparent"},"strokeWidth":{"value":0},"opacity":{"value":1}}}}}}
},
"layer":[
{"transform":[{"filter":"datum.s === 'CE 0'"}],"mark":{"type":"line","strokeWidth":2.5,"strokeJoin":"round","strokeCap":"square"}},
{"transform":[{"filter":"datum.s === 'CE 0' && (datum.x - 2) % 25 === 0"}],"mark":{"type":"point","filled":true,"opacity":1,"size":156,"shape":"M-1,-1L1,-1L0,1Z"}},
{"transform":[{"filter":"datum.s === 'CE 1'"}],"mark":{"type":"line","strokeWidth":2.5,"strokeJoin":"round","strokeCap":"square"}},
{"transform":[{"filter":"datum.s === 'CE 1' && (datum.x - 2) % 25 === 0"}],"mark":{"type":"point","filled":true,"opacity":1,"size":156,"shape":"circle"}},
{"transform":[{"filter":"datum.s === 'CE 2'"}],"mark":{"type":"line","strokeWidth":2.5,"strokeJoin":"round","strokeCap":"square"}},
{"transform":[{"filter":"datum.s === 'CE 2' && (datum.x - 2) % 25 === 0"}],"mark":{"type":"point","filled":true,"opacity":1,"size":156,"shape":"square"}}
]
},
{
"title":"S1 Connections Established",
"width":278,"height":501,
"data":{"name":"s1"},
"encoding":{
"x":{"field":"x","type":"quantitative","scale":{"domain":[-4.25,133.25],"nice":false,"zero":false},"axis":{"values":[0,50,100],"title":"Xth neighboring cell"}},
"y":{"field":"y","type":"quantitative","scale":{"domain":[0,0.7],"nice":false},"axis":{"values":[0,0.1,0.2,0.3,0.4,0.5,0.6,0.7],"format":".1f","title":"Correlation"}},
"color":{"field":"s","type":"nominal","scale":{"domain":["CE 0","CE 1","CE 2"],"range":["#1f77b4","#ff7f0e","#2ca02c"]},
 "legend":{"encode":{"symbols":{"update":{
  "shape":{"signal":"datum.value === 'CE 0' ? 'M-2.41,-0.147H2.41V0.147H-2.41ZM-0.735,-0.735L0.735,-0.735L0,0.735Z' : datum.value === 'CE 1' ? 'M-2.41,-0.147H2.41V0.147H-2.41ZM0.735,0A0.735,0.735,0,1,1,-0.735,0A0.735,0.735,0,1,1,0.735,0Z' : 'M-2.41,-0.147H2.41V0.147H-2.41ZM-0.735,-0.735H0.735V0.735H-0.735Z'"},
  "fill":{"signal":"datum.value === 'CE 0' ? '#1f77b4' : datum.value === 'CE 1' ? '#ff7f0e' : '#2ca02c'"},
  "stroke":{"value":"transparent"},"strokeWidth":{"value":0},"opacity":{"value":1}}}}}}
},
"layer":[
{"transform":[{"filter":"datum.s === 'CE 0'"}],"mark":{"type":"line","strokeWidth":2.5,"strokeJoin":"round","strokeCap":"square"}},
{"transform":[{"filter":"datum.s === 'CE 0' && (datum.x - 2) % 25 === 0"}],"mark":{"type":"point","filled":true,"opacity":1,"size":156,"shape":"M-1,-1L1,-1L0,1Z"}},
{"transform":[{"filter":"datum.s === 'CE 1'"}],"mark":{"type":"line","strokeWidth":2.5,"strokeJoin":"round","strokeCap":"square"}},
{"transform":[{"filter":"datum.s === 'CE 1' && (datum.x - 2) % 25 === 0"}],"mark":{"type":"point","filled":true,"opacity":1,"size":156,"shape":"circle"}},
{"transform":[{"filter":"datum.s === 'CE 2'"}],"mark":{"type":"line","strokeWidth":2.5,"strokeJoin":"round","strokeCap":"square"}},
{"transform":[{"filter":"datum.s === 'CE 2' && (datum.x - 2) % 25 === 0"}],"mark":{"type":"point","filled":true,"opacity":1,"size":156,"shape":"square"}}
]
},
{
"title":{"text":"LTE Comparison RA and S1","dx":-22},
"width":278,"height":501,
"data":{"name":"cmp"},
"encoding":{
"x":{"field":"x","type":"quantitative","scale":{"domain":[-4.25,133.25],"nice":false,"zero":false},"axis":{"values":[0,50,100],"title":"Xth neighboring cell"}},
"y":{"field":"y","type":"quantitative","scale":{"domain":[0,0.7],"nice":false},"axis":{"values":[0,0.1,0.2,0.3,0.4,0.5,0.6,0.7],"format":".1f","title":"Correlation"}},
"color":{"field":"s","type":"nominal","scale":{"domain":["Msg 2","S1 Conn."],"range":["#1f77b4","#ff7f0e"]},
 "legend":{"encode":{"symbols":{"update":{
  "shape":{"signal":"datum.value === 'Msg 2' ? 'M-2.41,-0.147H2.41V0.147H-2.41ZM-0.735,-0.735L0.735,-0.735L0,0.735Z' : 'M-2.41,-0.147H2.41V0.147H-2.41ZM0.735,0A0.735,0.735,0,1,1,-0.735,0A0.735,0.735,0,1,1,0.735,0Z'"},
  "fill":{"signal":"datum.value === 'Msg 2' ? '#1f77b4' : '#ff7f0e'"},
  "stroke":{"value":"transparent"},"strokeWidth":{"value":0},"opacity":{"value":1}}}}}}
},
"layer":[
{"transform":[{"filter":"datum.s === 'Msg 2'"}],"mark":{"type":"line","strokeWidth":2.5,"strokeJoin":"round","strokeCap":"square"}},
{"transform":[{"filter":"datum.s === 'Msg 2' && (datum.x - 2) % 25 === 0"}],"mark":{"type":"point","filled":true,"opacity":1,"size":156,"shape":"M-1,-1L1,-1L0,1Z"}},
{"transform":[{"filter":"datum.s === 'S1 Conn.'"}],"mark":{"type":"line","strokeWidth":2.5,"strokeJoin":"round","strokeCap":"square"}},
{"transform":[{"filter":"datum.s === 'S1 Conn.' && indexof([2, 102, 127], datum.x) >= 0"}],"mark":{"type":"point","filled":true,"opacity":1,"size":156,"shape":"circle"}}
]
}
],
"resolve":{"scale":{"color":"independent"},"legend":{"color":"independent"}},
"config":{
"font":"DejaVu Sans",
"view":{"stroke":"black","strokeWidth":1.4},
"axis":{"domain":false,"grid":false,"ticks":true,"tickColor":"black","tickSize":6,"tickWidth":1.4,"labelFont":"DejaVu Sans","labelFontSize":17,"labelColor":"black","labelPadding":5,"labelFlush":false,"labelOverlap":false,"titleFont":"DejaVu Sans","titleFontSize":17,"titleFontWeight":"normal","titleColor":"black","titlePadding":10},
"title":{"font":"DejaVu Sans","fontSize":20.6,"fontWeight":"normal","color":"black","offset":-3},
"legend":{"orient":"top-right","offset":8.6,"title":null,"labelFont":"DejaVu Sans","labelFontSize":17,"labelColor":"black","padding":6,"strokeColor":"#cccccc","fillColor":"rgba(255,255,255,0.8)","cornerRadius":3.5,"symbolSize":289,"rowPadding":12,"symbolOffset":14,"labelOffset":23,"symbolStrokeWidth":0}
}
}
